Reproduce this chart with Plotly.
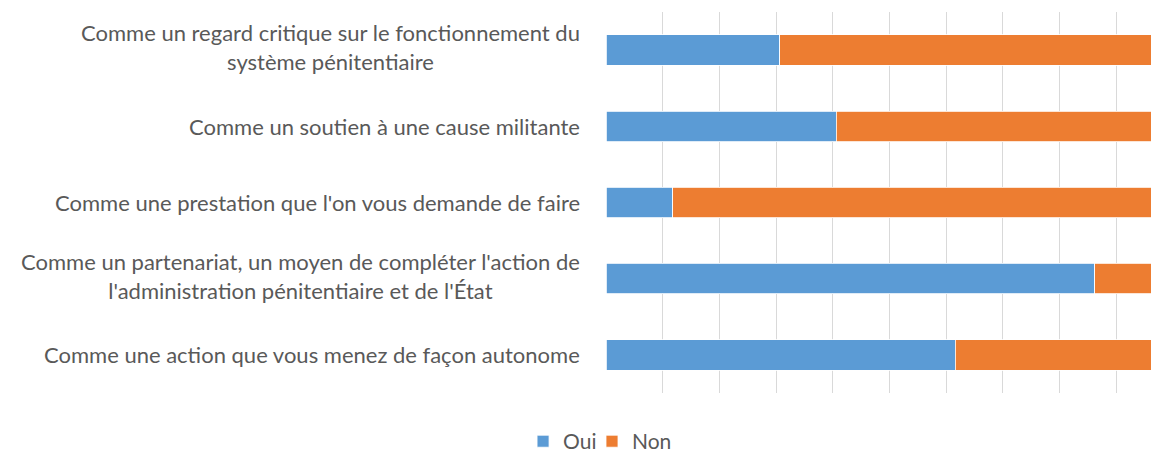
import plotly.graph_objects as go

categories = [
    "Comme un regard critique sur le fonctionnement du<br>système pénitentiaire",
    "Comme un soutien à une cause militante",
    "Comme une prestation que l'on vous demande de faire",
    "Comme un partenariat, un moyen de compléter l'action de<br>l'administration pénitentiaire et de l'État",
    "Comme une action que vous menez de façon autonome",
]
oui = [30.7, 40.6, 11.8, 86.2, 61.6]
non = [100 - v for v in oui]

BLUE = "#5B9BD5"
ORANGE = "#ED7D31"
TEXT = "#595959"
FONT = "Lato"

fig = go.Figure()
fig.add_trace(go.Bar(y=categories, x=oui, name="Oui", orientation="h", legend="legend",
                     marker=dict(color=BLUE, line=dict(color="white", width=0.8)), width=0.4))
fig.add_trace(go.Bar(y=categories, x=non, name="Non", orientation="h", legend="legend2",
                     marker=dict(color=ORANGE, line=dict(color="white", width=0.8)), width=0.4))

# category labels (centered multi-line, like the original)
for c in categories:
    multi = "<br>" in c
    fig.add_annotation(x=-0.043, xref="paper", y=c, yref="y", text=c, showarrow=False,
                       xanchor="right", yanchor="middle", align="center",
                       yshift=3 if multi else 0,
                       font=dict(family=FONT, size=22, color=TEXT))

leg = dict(orientation="h", xanchor="left", y=-0.1275, yanchor="middle",
           font=dict(family=FONT, size=21, color=TEXT), itemwidth=30,
           bgcolor="rgba(0,0,0,0)")

fig.update_layout(
    barmode="stack",
    width=1151, height=445,
    margin=dict(l=598, r=0, t=4, b=60, autoexpand=False),
    paper_bgcolor="white", plot_bgcolor="white",
    font=dict(family=FONT, color=TEXT, size=21),
    xaxis=dict(range=[0, 97.58], dtick=10, showgrid=True, gridcolor="#D9D9D9", gridwidth=1,
               zeroline=False, showticklabels=False, showline=False, ticks=""),
    yaxis=dict(autorange="reversed", showticklabels=False, showgrid=False, zeroline=False,
               showline=False, ticks=""),
    legend=dict(leg, x=-0.150),
    legend2=dict(leg, x=-0.0253),
    showlegend=True,
)

fig.write_html("out.html")
